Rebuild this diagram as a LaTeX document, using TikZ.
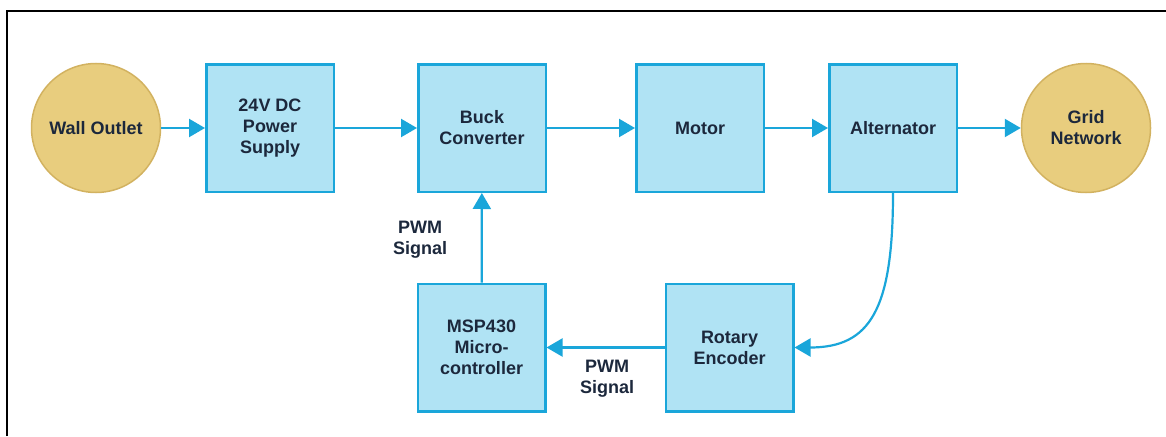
\documentclass[tikz,border=0pt]{standalone}
\usepackage{fontspec}
\setmainfont{Liberation Sans}
\usetikzlibrary{arrows.meta}
\definecolor{boxfill}{HTML}{B0E3F4}
\definecolor{boxline}{HTML}{1AA6DA}
\definecolor{circfill}{HTML}{E8CD7E}
\definecolor{circline}{HTML}{D2B260}
\definecolor{txt}{HTML}{1C283C}
\tikzset{
  blk/.style={draw=boxline, fill=boxfill, line width=2.5pt, minimum width=127.5pt, minimum height=127.5pt, inner sep=0pt, align=center, font=\fontsize{18}{21}\selectfont\bfseries, text=txt},
  term/.style={circle, draw=circline, fill=circfill, line width=1.5pt, minimum size=129pt, inner sep=0pt, align=center, font=\fontsize{18}{21}\selectfont\bfseries, text=txt},
  lbl/.style={align=center, font=\fontsize{18}{21}\selectfont\bfseries, text=txt, inner sep=0pt},
  conn/.style={draw=boxline, line width=2.2pt, -{Triangle[length=16pt,width=18pt]}}
}
\begin{document}
\begin{tikzpicture}[x=1pt,y=-1pt]
\useasboundingbox (0,0) rectangle (1166,436);
\draw[line width=2pt] (7,436) -- (7,11) -- (1166,11);
\node[term] (wall) at (96,128) {Wall Outlet};
\node[blk] (psu) at (270,128) {24V DC\\Power\\Supply};
\node[blk] (buck) at (482,128) {Buck\\Converter};
\node[blk] (motor) at (700,128) {Motor};
\node[blk] (alt) at (893,128) {Alternator};
\node[term] (grid) at (1086,128) {Grid\\Network};
\node[blk] (msp) at (481.5,347.5) {MSP430\\Micro-\\controller};
\node[blk] (enc) at (729.5,347.5) {Rotary\\Encoder};
\node[lbl] (pwm1) at (420,240) {PWM\\Signal};
\node[lbl] (pwm2) at (607,379) {PWM\\Signal};
\draw[conn] (wall) -- (psu);
\draw[conn] (psu) -- (buck);
\draw[conn] (buck) -- (motor);
\draw[conn] (motor) -- (alt);
\draw[conn] (alt) -- (grid);
\draw[conn] (msp) -- (buck);
\draw[conn] (enc) -- (msp);
\draw[conn] (alt.south) .. controls (893,310) and (870,347.5) .. (enc.east);
\end{tikzpicture}
\end{document}
